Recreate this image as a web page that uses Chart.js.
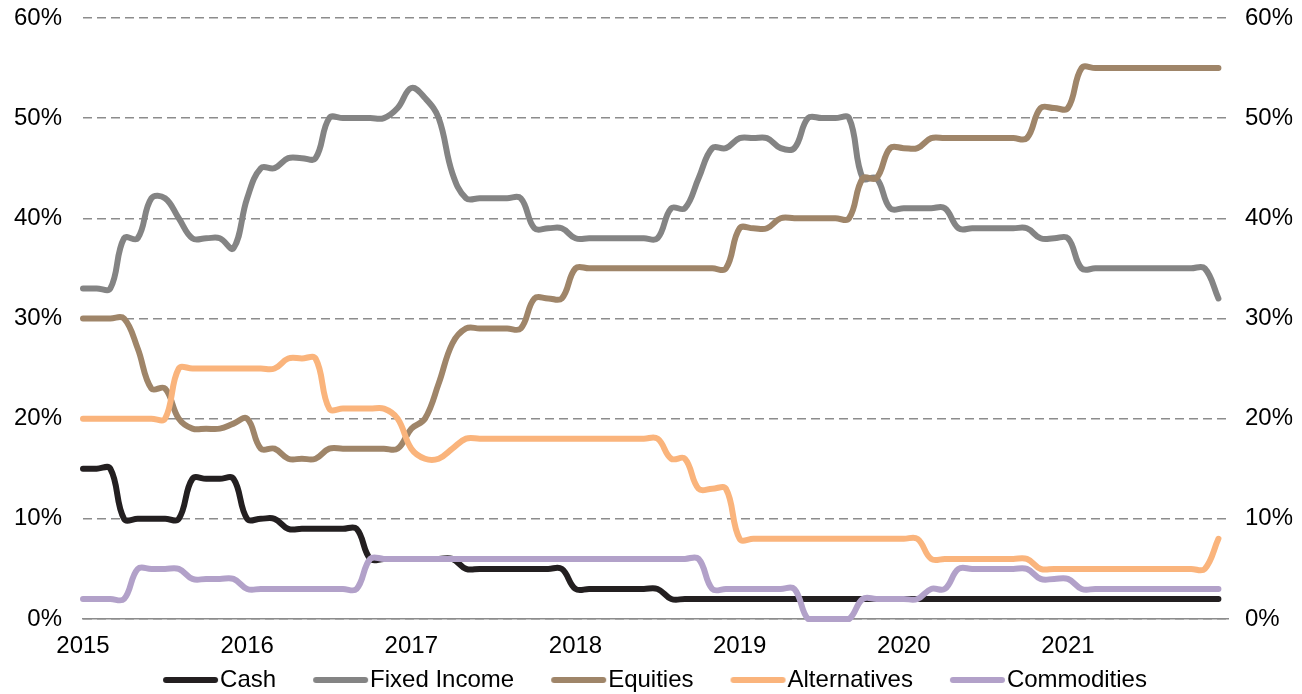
<!DOCTYPE html>
<html>
<head>
<meta charset="utf-8">
<script src="https://cdn.jsdelivr.net/npm/chart.js@4/dist/chart.umd.min.js"></script>
<style>
  html, body { margin: 0; padding: 0; background: #fff; }
</style>
</head>
<body>
<canvas id="myChart" width="1302" height="694"></canvas>
<script>
// monthly allocation (%), Jan 2015 .. Dec 2021
var yearLabels = ["2015", "2016", "2017", "2018", "2019", "2020", "2021"];
var seriesNames = ["Cash", "Fixed Income", "Equities", "Alternatives", "Commodities"];
var seriesColors = ["#231f20", "#848484", "#9f8569", "#fab47c", "#b2a1c9"];

var cash = [15, 15, 15, 10, 10, 10, 10, 10, 14, 14, 14, 14, 10, 10, 10, 9, 9, 9,
  9, 9, 9, 6, 6, 6, 6, 6, 6, 6, 5, 5, 5, 5, 5, 5, 5, 5,
  3, 3, 3, 3, 3, 3, 3, 2, 2, 2, 2, 2, 2, 2, 2, 2, 2, 2, 2, 2, 2,
  2, 2, 2, 2, 2, 2, 2, 2, 2, 2, 2, 2, 2, 2, 2, 2,
  2, 2, 2, 2, 2, 2, 2, 2, 2, 2, 2];
var fixedIncome = [33, 33, 33, 38, 38, 42, 42, 40, 38, 38, 38, 37, 42, 45, 45, 46, 46, 46,
  50, 50, 50, 50, 50, 51, 53, 52, 50, 44.5, 42, 42, 42, 42, 42, 39, 39, 39,
  38, 38, 38, 38, 38, 38, 38, 41, 41, 44, 47, 47, 48, 48, 48, 47, 47, 50, 50, 50, 50,
  44, 44, 41, 41, 41, 41, 41, 39, 39, 39, 39, 39, 39, 38, 38, 38,
  35, 35, 35, 35, 35, 35, 35, 35, 35, 35, 32];
var equities = [30, 30, 30, 30, 27, 23, 23, 20, 19, 19, 19, 19.5, 20, 17, 17, 16, 16, 16,
  17, 17, 17, 17, 17, 17, 19, 20, 23.5, 27.5, 29, 29, 29, 29, 29, 32, 32, 32,
  35, 35, 35, 35, 35, 35, 35, 35, 35, 35, 35, 35, 39, 39, 39, 40, 40, 40, 40, 40, 40,
  44, 44, 47, 47, 47, 48, 48, 48, 48, 48, 48, 48, 48, 51, 51, 51,
  55, 55, 55, 55, 55, 55, 55, 55, 55, 55, 55];
var alternatives = [20, 20, 20, 20, 20, 20, 20, 25, 25, 25, 25, 25, 25, 25, 25, 26, 26, 26,
  21, 21, 21, 21, 21, 20, 17, 16, 16, 17, 18, 18, 18, 18, 18, 18, 18, 18,
  18, 18, 18, 18, 18, 18, 18, 16, 16, 13, 13, 13, 8, 8, 8, 8, 8, 8, 8, 8, 8,
  8, 8, 8, 8, 8, 6, 6, 6, 6, 6, 6, 6, 6, 5, 5, 5,
  5, 5, 5, 5, 5, 5, 5, 5, 5, 5, 8];
var commodities = [2, 2, 2, 2, 5, 5, 5, 5, 4, 4, 4, 4, 3, 3, 3, 3, 3, 3, 3, 3, 3,
  6, 6, 6, 6, 6, 6, 6, 6, 6, 6, 6, 6, 6, 6, 6, 6, 6, 6, 6, 6, 6, 6, 6, 6, 6,
  3, 3, 3, 3, 3, 3, 3, 0, 0, 0, 0, 2, 2, 2, 2, 2, 3, 3, 5, 5, 5, 5, 5, 5, 4, 4, 4,
  3, 3, 3, 3, 3, 3, 3, 3, 3, 3, 3];

var allSeries = [cash, fixedIncome, equities, alternatives, commodities];
var fontSize = 24;
var shift = 9.5; // nudges the centred legend left without moving the plot

// legend sample: a short thick line sitting just left of the text
// (the legend box is 72 wide; the line only fills its right part)
function legendLine(color) {
  var c = document.createElement("canvas");
  c.width = 100;
  c.height = 10;
  var g = c.getContext("2d");
  g.strokeStyle = color;
  g.lineWidth = 6;
  g.lineCap = "round";
  g.beginPath();
  g.moveTo(44, 5);
  g.lineTo(93, 5);
  g.stroke();
  return c;
}

var datasets = [];
for (var s = 0; s < allSeries.length; s++) {
  datasets.push({
    label: seriesNames[s],
    data: allSeries[s].map(function (v, i) { return { x: i, y: v }; }),
    borderColor: seriesColors[s],
    backgroundColor: seriesColors[s],
    borderWidth: 6,
    borderCapStyle: "round",
    borderJoinStyle: "round",
    pointRadius: 0,
    pointHoverRadius: 0,
    pointStyle: legendLine(seriesColors[s]),
    tension: 0.4,
    fill: false,
    clip: false,
    order: allSeries.length - s, // later series drawn on top
  });
}

Chart.defaults.font.family = "'Liberation Sans', Arial, sans-serif";
Chart.defaults.font.size = fontSize;
Chart.defaults.color = "#000";

var pctTicks = {
  stepSize: 10,
  padding: 3.5,
  color: "#000",
  font: { size: fontSize },
  callback: function (v) { return v + "%"; },
};

var ctx = document.getElementById("myChart").getContext("2d");
var myChart = new Chart(ctx, {
  type: "line",
  data: { datasets: datasets },
  options: {
    responsive: false,
    animation: false,
    devicePixelRatio: 1,
    layout: { padding: { top: 0, left: -shift, right: shift, bottom: 0 } },
    plugins: {
      tooltip: { enabled: false },
      legend: {
        display: true,
        position: "bottom",
        maxHeight: 36,
        labels: {
          usePointStyle: true,
          pointStyleWidth: 72,
          padding: 10,
          color: "#000",
          font: { size: fontSize },
          sort: function (a, b) { return a.datasetIndex - b.datasetIndex; },
        },
      },
    },
    scales: {
      x: {
        type: "linear",
        min: 0,
        max: 83.7,
        grid: { display: false, drawTicks: false },
        border: { display: true, color: "#8c8c8c", width: 1.5 },
        ticks: {
          stepSize: 12,
          includeBounds: false,
          autoSkip: false,
          maxRotation: 0,
          padding: 13,
          color: "#000",
          font: { size: fontSize },
          callback: function (v) { return yearLabels[Math.round(v / 12)]; },
        },
        afterFit: function (scale) { scale.height = 39; },
      },
      y: {
        position: "left",
        min: 0,
        max: 60,
        grid: { color: "#8c8c8c", lineWidth: 1.5, drawTicks: true, tickLength: 17.5, tickColor: "rgba(0,0,0,0)" },
        border: { display: false, dash: [9, 5] },
        ticks: pctTicks,
        afterFit: function (scale) { scale.width = 83 + shift; },
      },
      y2: {
        position: "right",
        min: 0,
        max: 60,
        grid: { display: false, drawTicks: true, tickLength: 13.5, tickColor: "rgba(0,0,0,0)" },
        border: { display: false },
        ticks: pctTicks,
        afterFit: function (scale) { scale.width = 74 - shift; },
      },
    },
  },
});
</script>
</body>
</html>
